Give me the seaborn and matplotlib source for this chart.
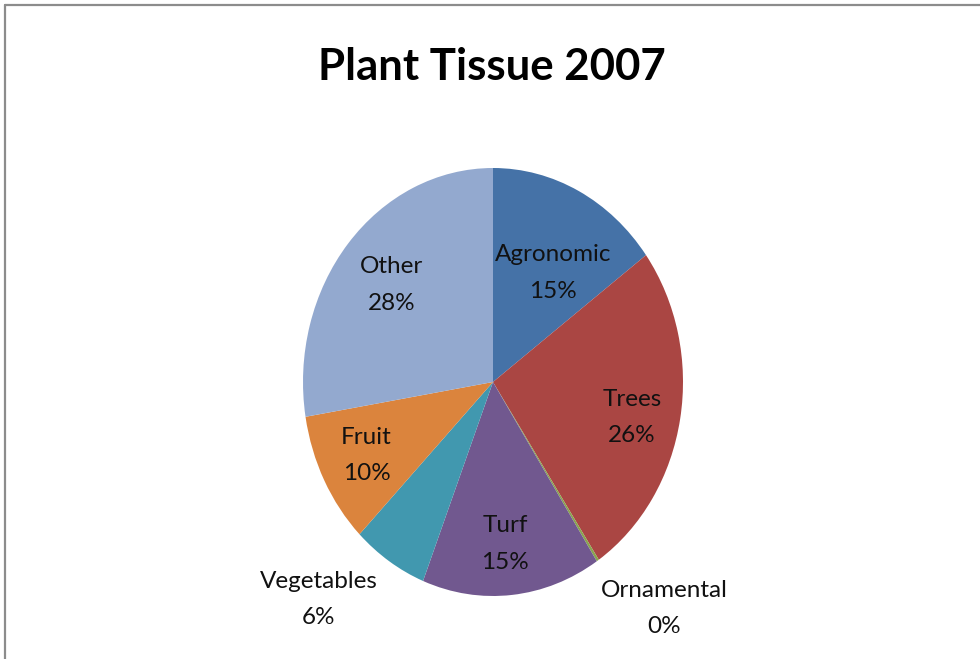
import matplotlib.pyplot as plt
import numpy as np
import seaborn as sns
from matplotlib.lines import Line2D

# Data (percent of total)
categories = ["Agronomic", "Trees", "Ornamental", "Turf", "Vegetables", "Fruit", "Other"]
shares = [14.9, 25.7, 0.2, 15.2, 6.4, 10.0, 27.6]
colors = ["#4572A7", "#AA4643", "#89A54E", "#71588F", "#4198AF", "#DB843D", "#93A9CF"]

# label placement: distance from centre (pie radius = 1) and angle nudge in degrees
label_dist = [0.60, 0.75, 1.39, 0.76, 1.37, 0.75, 0.70]
label_nudge = [-5, -3, 7, -1, -9, 0, 0]

sns.set_theme(style="white")
plt.rcParams["font.family"] = ["Lato", "DejaVu Sans"]

fig = plt.figure(figsize=(9.8, 6.59), dpi=100)
fig.patch.set_facecolor("white")

# axes box matches the (slightly tall) elliptical pie of the original
ax = fig.add_axes([303 / 980, 63 / 659, 380 / 980, 428 / 659])
wedges, _ = ax.pie(
    shares,
    colors=colors,
    startangle=90,
    counterclock=False,
    radius=1,
    wedgeprops={"linewidth": 0},
)
ax.set_aspect("auto")
ax.set_xlim(-1, 1)
ax.set_ylim(-1, 1)
ax.axis("off")

total = sum(shares)
for w, name, val, d, nudge in zip(wedges, categories, shares, label_dist, label_nudge):
    mid = np.deg2rad((w.theta1 + w.theta2) / 2 + nudge)
    ax.text(
        d * np.cos(mid),
        d * np.sin(mid),
        f"{name}\n{val / total * 100:.0f}%",
        ha="center",
        va="center",
        fontsize=17.5,
        color="#111111",
        linespacing=1.9,
    )

fig.text(0.502, 0.899, "Plant Tissue 2007", ha="center", va="center",
         fontsize=31.5, fontweight="bold", color="black")

# grey chart frame (only left and top edges show in the original crop)
fig.add_artist(Line2D([4.5 / 980, 4.5 / 980], [0, 1 - 4.5 / 659], transform=fig.transFigure,
                      color="#8c8c8c", linewidth=1.6))
fig.add_artist(Line2D([4.5 / 980, 1], [1 - 4.5 / 659, 1 - 4.5 / 659], transform=fig.transFigure,
                      color="#8c8c8c", linewidth=1.6))

fig.savefig("out.png", dpi=100, facecolor="white")
